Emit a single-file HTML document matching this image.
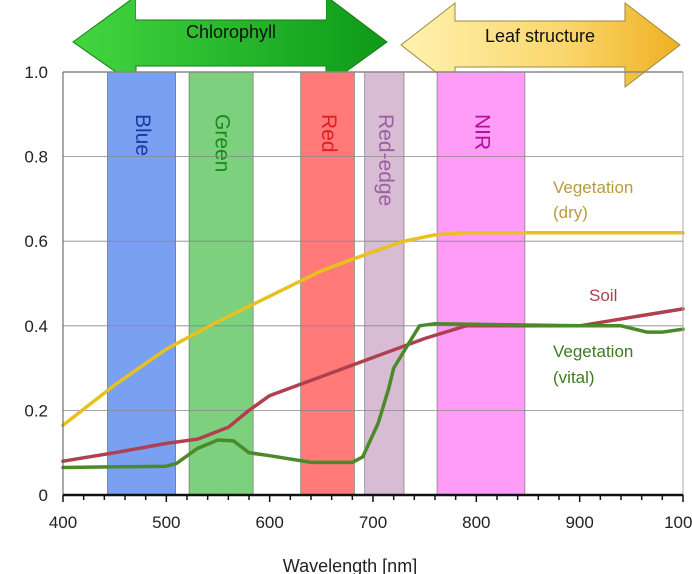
<!DOCTYPE html>
<html><head><meta charset="utf-8"><style>
body{margin:0;background:#fff;}
svg{display:block;font-family:"Liberation Sans",sans-serif;}
</style></head><body>
<svg id="c" width="692" height="574" viewBox="0 0 692 574">
<defs>
<linearGradient id="gg" x1="0" x2="1"><stop offset="0" stop-color="#44d640"/><stop offset="1" stop-color="#0c9a18"/></linearGradient>
<linearGradient id="yg" x1="0" x2="1"><stop offset="0" stop-color="#fff2b0"/><stop offset="0.6" stop-color="#fad66a"/><stop offset="1" stop-color="#eeb020"/></linearGradient>
</defs>
<polygon points="73,42 136,-4 136,20 326,20 326,-4 387,42 326,86 326,66 136,66 136,86" fill="url(#gg)" stroke="#1a7a1a" stroke-width="1"/>
<rect x="136" y="0" width="190" height="19" fill="#fff"/>
<text x="231" y="38" text-anchor="middle" font-size="18" fill="#111">Chlorophyll</text>
<polygon points="401,45 455,3 455,21 625,21 625,3 680,45 625,87 625,67 455,67 455,87" fill="url(#yg)" stroke="#9a8a40" stroke-width="1"/>
<text x="540" y="42" text-anchor="middle" font-size="18" fill="#111">Leaf structure</text>
<g id="bands"></g>
<g id="grid"></g>
<g id="lines"></g>
<g id="axes"></g>
<text x="553" y="193" font-size="17" fill="#b89a40">Vegetation</text>
<text x="553" y="218" font-size="17" fill="#b89a40">(dry)</text>
<text x="589" y="301" font-size="17" fill="#a84050">Soil</text>
<text x="553" y="357" font-size="17" fill="#3f7a22">Vegetation</text>
<text x="553" y="383" font-size="17" fill="#3f7a22">(vital)</text>
<text x="350" y="572" text-anchor="middle" font-size="18" fill="#222">Wavelength [nm]</text>
</svg>
<script>
const bandNames=["Blue","Green","Red","Red-edge","NIR"];
const bandStart=[443,522,630,692,762];
const bandEnd=[509,584,682,730,847];
const bandFill=["#7aa0f2","#7dd07e","#ff7a78","#d8bcd4","#ff9cf8"];
const bandText=["#1b3aa8","#1c8a1c","#e02020","#9a60a0","#b0109a"];
const xTicks=[400,500,600,700,800,900,1000];
const yTicks=[0,0.2,0.4,0.6,0.8,1.0];
const dryX=[400,450,500,550,600,650,700,730,760,790,850,1000];
const dryY=[0.165,0.26,0.345,0.41,0.47,0.53,0.575,0.6,0.615,0.62,0.62,0.62];
const soilX=[400,450,500,530,560,580,600,650,700,750,790,900,950,1000];
const soilY=[0.08,0.1,0.122,0.132,0.16,0.2,0.235,0.28,0.325,0.37,0.4,0.4,0.42,0.44];
const vitalX=[400,500,510,530,550,565,580,600,640,680,690,705,715,720,735,745,760,900,940,965,980,1000];
const vitalY=[0.065,0.068,0.075,0.11,0.13,0.128,0.1,0.093,0.077,0.077,0.09,0.17,0.25,0.3,0.36,0.4,0.405,0.4,0.4,0.385,0.385,0.392];
const X=v=>63+(v-400)*(620/600), Y=v=>495-v*423;
const NS="http://www.w3.org/2000/svg";
function mk(t,a,p){const e=document.createElementNS(NS,t);for(const k in a)e.setAttribute(k,a[k]);p.appendChild(e);return e;}
const B=document.getElementById('bands'),G=document.getElementById('grid'),L=document.getElementById('lines'),A=document.getElementById('axes');
bandNames.forEach((n,i)=>{
 const r=mk('rect',{x:X(bandStart[i]),y:Y(1),width:X(bandEnd[i])-X(bandStart[i]),height:Y(0)-Y(1),fill:bandFill[i],stroke:'#666','stroke-width':0.6},B);
 
 
 const cx=(X(bandStart[i])+X(bandEnd[i]))/2;
 const t=mk('text',{x:cx,y:Y(1)+42,'font-size':21,fill:bandText[i],transform:`rotate(90 ${cx} ${Y(1)+42})`,'dominant-baseline':'middle'},B);
 t.textContent=n;
 
 
});
yTicks.forEach(v=>{
 const l=mk('line',{x1:63,x2:683,y1:Y(v),y2:Y(v),stroke:'#888','stroke-width':v==0||v==1?1.5:0.8},G);
 
 
 const t=mk('text',{x:48,y:Y(v)+6,'font-size':17,fill:'#222','text-anchor':'end'},A);
 t.textContent=v==0?'0':v.toFixed(1);
 
 
});
mk('line',{x1:63,x2:63,y1:Y(1),y2:Y(0),stroke:'#555','stroke-width':1},A);
mk('line',{x1:683,x2:683,y1:Y(1),y2:Y(0),stroke:'#aaa','stroke-width':1},A);
mk('line',{x1:63,x2:683,y1:Y(0),y2:Y(0),stroke:'#111','stroke-width':2.5},A);
for(let v=400;v<=1000;v+=20){mk('line',{x1:X(v),x2:X(v),y1:Y(0),y2:Y(0)+(v%100==0?7:5),stroke:'#111','stroke-width':1.5},A);}
xTicks.forEach(v=>{
 const t=mk('text',{x:X(v),y:528,'font-size':17,fill:'#222','text-anchor':'middle'},A);
 t.textContent=v;
 
 
});
function line(xs,ys,col,name){
 const d=xs.map((x,i)=>(i?'L':'M')+X(x).toFixed(1)+','+Y(ys[i]).toFixed(1)).join(' ');
 const p=mk('path',{d:d,fill:'none',stroke:col,'stroke-width':3.5,'stroke-linejoin':'round','stroke-linecap':'round'},L);
 
 
}
line(dryX,dryY,'#e8c020','dry-vegetation-line');
line(soilX,soilY,'#b0404e','soil-line');
line(vitalX,vitalY,'#4a8a2a','vital-vegetation-line');
</script>
</body></html>
